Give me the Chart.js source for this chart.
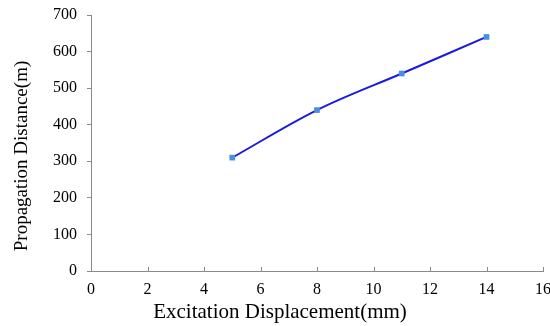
<!DOCTYPE html>
<html>
<head>
<meta charset="utf-8">
<script src="https://cdn.jsdelivr.net/npm/chart.js@4/dist/chart.umd.min.js"></script>
<style>
  html, body { margin: 0; padding: 0; background: #fff; overflow: hidden; }
  #wrap { position: relative; width: 560px; height: 326px; }
</style>
</head>
<body>
<div id="wrap"><canvas id="chart"></canvas></div>
<script>
  // excitation displacement (mm) vs propagation distance (m)
  var displacement = [5, 8, 11, 14];
  var distance = [310, 440, 540, 640];
  var X_TITLE = 'Excitation Displacement(mm)';
  var Y_TITLE = 'Propagation Distance(m)';

  var AXIS_COLOR = '#8a8a8a';
  var SERIF = '"Liberation Serif", "Times New Roman", serif';

  // inward tick marks on the x axis, and both axis titles placed by hand
  var axisExtras = {
    id: 'axisExtras',
    afterDraw: function (chart) {
      var ctx = chart.ctx;
      var xs = chart.scales.x;
      var bottom = chart.chartArea.bottom;
      ctx.save();
      ctx.strokeStyle = AXIS_COLOR;
      ctx.lineWidth = 1;
      xs.ticks.forEach(function (t) {
        var px = Math.round(xs.getPixelForValue(t.value)) + 0.5;
        if (t.value === xs.min) return;
        ctx.beginPath();
        ctx.moveTo(px, bottom);
        ctx.lineTo(px, bottom - 4);
        ctx.stroke();
      });
      ctx.fillStyle = '#000';
      ctx.textAlign = 'center';
      ctx.textBaseline = 'middle';
      ctx.font = '21px ' + SERIF;
      ctx.fillText(X_TITLE, 280, 312);
      ctx.font = '19px ' + SERIF;
      ctx.translate(22, 156);
      ctx.rotate(-Math.PI / 2);
      ctx.fillText(Y_TITLE, 0, 0);
      ctx.restore();
    }
  };

  var points = displacement.map(function (x, i) { return { x: x, y: distance[i] }; });

  new Chart(document.getElementById('chart'), {
    type: 'line',
    data: {
      datasets: [{
        data: points,
        borderColor: '#1a1ae0',
        borderWidth: 2,
        tension: 0.35,
        pointStyle: 'rect',
        pointRadius: 4,
        pointBackgroundColor: '#4a8ee0',
        pointBorderColor: '#4a8ee0',
        pointBorderWidth: 0
      }]
    },
    options: {
      responsive: true,
      maintainAspectRatio: false,
      animation: false,
      layout: { padding: { top: 15, left: 0, right: 0, bottom: 0 } },
      plugins: { legend: { display: false }, tooltip: { enabled: false } },
      scales: {
        x: {
          type: 'linear',
          min: 0,
          max: 16,
          ticks: { stepSize: 2, color: '#000', font: { family: SERIF, size: 16 }, padding: 9, maxRotation: 0 },
          grid: { display: true, drawOnChartArea: false, drawTicks: false },
          border: { color: AXIS_COLOR, width: 1 },
          afterFit: function (s) { s.height = 55; }
        },
        y: {
          min: 0,
          max: 700,
          ticks: { stepSize: 100, color: '#000', font: { family: SERIF, size: 16 }, padding: 10 },
          grid: { drawOnChartArea: false, drawTicks: true, tickLength: 4, color: AXIS_COLOR },
          border: { color: AXIS_COLOR, width: 1 },
          afterFit: function (s) {
            s.width = 91;
            s.paddingTop = 0;
            s.paddingBottom = 0;
          }
        }
      }
    },
    plugins: [axisExtras]
  });
</script>
</body>
</html>
